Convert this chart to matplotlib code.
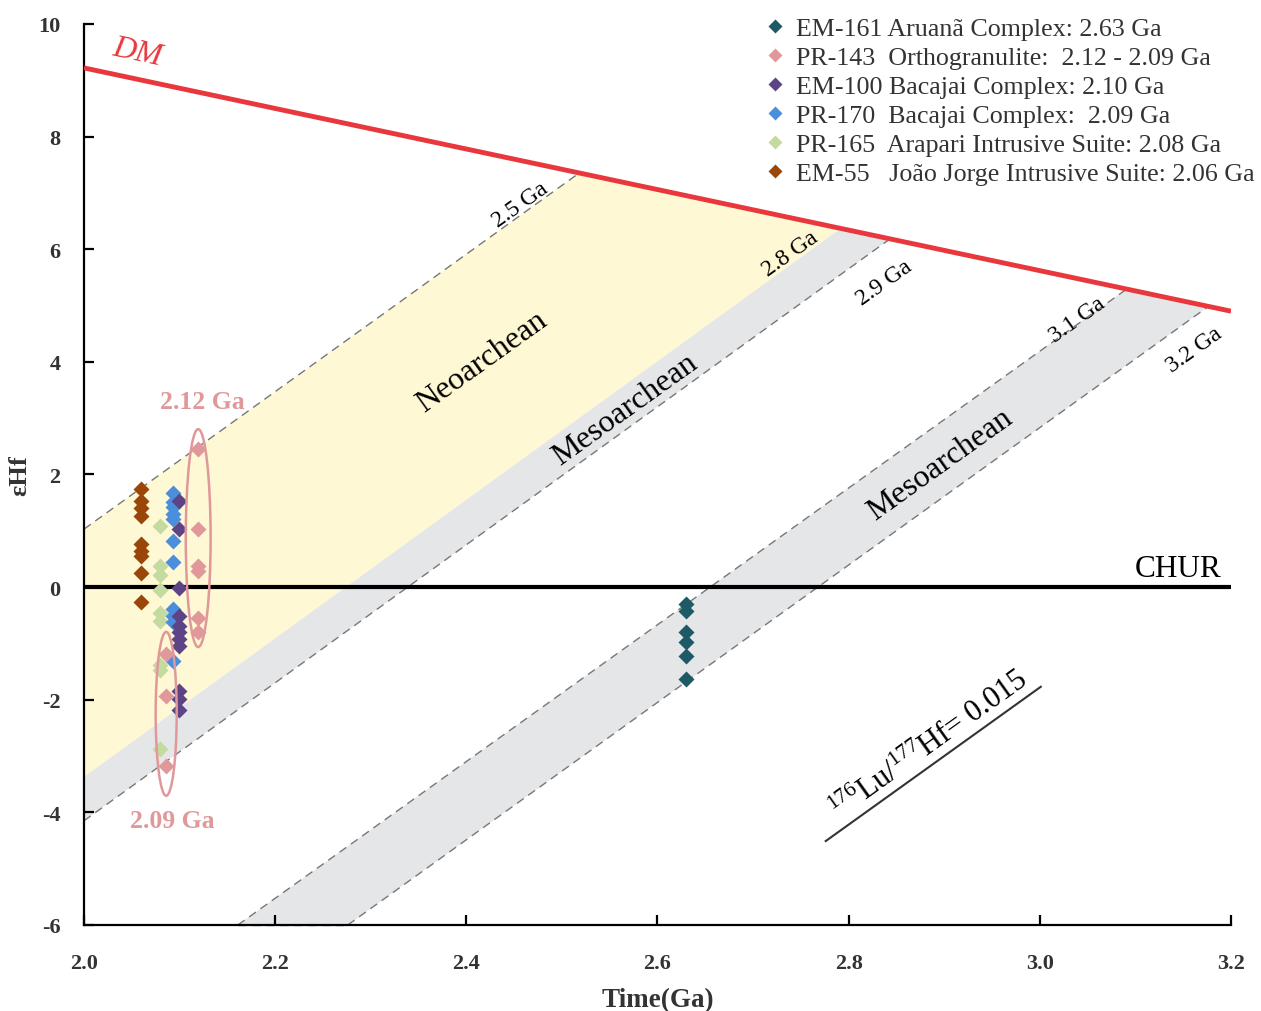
import numpy as np
import matplotlib
matplotlib.use("Agg")
import matplotlib.pyplot as plt
from matplotlib.patches import Polygon, Ellipse

plt.rcParams['font.family'] = ['Liberation Serif', 'DejaVu Serif']
plt.rcParams['mathtext.fontset'] = 'custom'
plt.rcParams['mathtext.rm'] = 'Liberation Serif'
plt.rcParams['mathtext.it'] = 'Liberation Serif:italic'
plt.rcParams['axes.unicode_minus'] = False

# --- sample data ---
em161_x = [2.63] * 6
em161_y = [-0.30, -0.42, -0.80, -0.98, -1.22, -1.63]

pr143_x = [2.119] * 6 + [2.086] * 3
pr143_y = [2.45, 1.03, 0.38, 0.29, -0.55, -0.80, -1.19, -1.93, -3.17]

em100_x = [2.0995] * 11
em100_y = [1.53, 1.03, -0.01, -0.51, -0.69, -0.80, -0.92, -1.04, -1.84, -1.99, -2.19]

pr170_x = [2.093] * 11
pr170_y = [1.68, 1.51, 1.42, 1.30, 1.21, 0.82, 0.44, -0.39, -0.52, -0.62, -1.31]

pr165_x = [2.0795] * 9
pr165_y = [1.08, 0.38, 0.21, -0.06, -0.46, -0.60, -1.38, -1.48, -2.88]

em55_x = [2.0596] * 9
em55_y = [1.75, 1.53, 1.40, 1.27, 0.77, 0.65, 0.55, 0.25, -0.27]

labels = ["EM-161 Aruanã Complex: 2.63 Ga",
          "PR-143  Orthogranulite:  2.12 - 2.09 Ga",
          "EM-100 Bacajai Complex: 2.10 Ga",
          "PR-170  Bacajai Complex:  2.09 Ga",
          "PR-165  Arapari Intrusive Suite: 2.08 Ga",
          "EM-55   João Jorge Intrusive Suite: 2.06 Ga"]
colors = ["#1d5a66", "#e0989b", "#5c4487", "#4b8fdc", "#c4da9e", "#9a4609"]

# reference lines
dm_x = [2.0, 3.2]
dm_y = [9.22, 4.90]
chur_x = [2.0, 3.2]
chur_y = [0.0, 0.0]

# model age lines (176Lu/177Hf = 0.015), start and end points
age_x0 = [2.0, 2.0, 2.161, 2.276]
age_y0 = [1.03, -4.15, -6.0, -6.0]
age_x1 = [2.517, 2.843, 3.089, 3.176]
age_y1 = [7.34, 6.18, 5.27, 4.98]

age_names = ["2.5 Ga", "2.8 Ga", "2.9 Ga", "3.1 Ga", "3.2 Ga"]
age_lab_x = [2.456, 2.739, 2.837, 3.039, 3.162]
age_lab_y = [6.80, 5.92, 5.42, 4.76, 4.23]

# shaded bands
neo_x = [2.0, 2.517, 2.791, 2.0]
neo_y = [1.03, 7.34, 6.36, -3.37]
meso1_x = [2.0, 2.791, 2.843, 2.0]
meso1_y = [-3.37, 6.36, 6.18, -4.15]
meso2_x = [2.161, 3.089, 3.176, 2.276]
meso2_y = [-6.0, 5.27, 4.98, -6.0]

luhf_x = [2.776, 3.001]
luhf_y = [-4.51, -1.77]

fig = plt.figure(figsize=(12.61, 10.12), dpi=100)
ax = fig.add_axes([0.0666, 0.085, 0.9096, 0.8903])

yellow = "#fff8d4"
grey = "#e5e6e8"
ax.add_patch(Polygon(np.column_stack([neo_x, neo_y]), closed=True, fc=yellow, ec='none', zorder=1))
ax.add_patch(Polygon(np.column_stack([meso1_x, meso1_y]), closed=True, fc=grey, ec='none', zorder=1))
ax.add_patch(Polygon(np.column_stack([meso2_x, meso2_y]), closed=True, fc=grey, ec='none', zorder=1))

for x0, y0, x1, y1 in zip(age_x0, age_y0, age_x1, age_y1):
    ax.plot([x0, x1], [y0, y1], ls=(0, (6, 4)), color='#777777', lw=1.0, zorder=2)
ax.plot([meso2_x[0], meso2_x[3]], [meso2_y[0], meso2_y[3]], ls=(0, (6, 4)), color='#777777',
        lw=1.0, zorder=2, clip_on=False)

ax.plot(dm_x, dm_y, color='#e8383d', lw=3.5, zorder=3, solid_capstyle='butt')
ax.plot(chur_x, chur_y, color='black', lw=3.0, zorder=3, solid_capstyle='butt')

# points
series = [(em55_x, em55_y, 5), (pr165_x, pr165_y, 4), (pr170_x, pr170_y, 3),
          (em100_x, em100_y, 2), (pr143_x, pr143_y, 1), (em161_x, em161_y, 0)]
handles = {}
for xs, ys, i in series:
    h, = ax.plot(xs, ys, ls='none', marker='D', ms=8.5, mfc=colors[i], mec='none', zorder=5)
    handles[i] = h

# ellipses around PR-143 groups
ax.add_patch(Ellipse((2.1195, 0.87), 0.026, 3.87, fill=False, ec='#e0989b', lw=1.8, zorder=6))
ax.add_patch(Ellipse((2.086, -2.25), 0.022, 2.91, fill=False, ec='#e0989b', lw=1.8, zorder=6))

ang = 35.6
ax.text(2.056, 9.5, "DM", color='#e8383d', fontsize=23, style='italic', rotation=-12,
        ha='center', va='center', zorder=7)
ax.text(3.19, 0.08, "CHUR", fontsize=22.5, ha='right', va='bottom', zorder=7)
ax.text(2.416, 4.01, "Neoarchean", fontsize=23, rotation=ang, rotation_mode='anchor',
        ha='center', va='center', zorder=7)
ax.text(2.566, 3.16, "Mesoarchean", fontsize=23, rotation=ang, rotation_mode='anchor',
        ha='center', va='center', zorder=7)
ax.text(2.896, 2.19, "Mesoarchean", fontsize=23, rotation=ang, rotation_mode='anchor',
        ha='center', va='center', zorder=7)
for name, tx, ty in zip(age_names, age_lab_x, age_lab_y):
    ax.text(tx, ty, name, fontsize=17, rotation=ang, rotation_mode='anchor',
            ha='center', va='center', zorder=7)
ax.text(2.124, 3.30, "2.12 Ga", color='#e0989b', fontsize=18.5, fontweight='bold',
        ha='center', va='center', zorder=7)
ax.text(2.092, -4.15, "2.09 Ga", color='#e0989b', fontsize=18.5, fontweight='bold',
        ha='center', va='center', zorder=7)

ax.plot(luhf_x, luhf_y, color='#333333', lw=1.5, zorder=4)
ax.text(2.885, -2.80, r"$^{176}$Lu/$^{177}$Hf= 0.015", fontsize=22, rotation=ang,
        rotation_mode='anchor', ha='center', va='center', zorder=7)

ax.set_xlim(2.0, 3.2)
ax.set_ylim(-6, 10)
xt = np.arange(2.0, 3.21, 0.2)
ax.set_xticks(xt)
ax.set_xticklabels([f"{v:.1f}" for v in xt])
ax.set_yticks(np.arange(-6, 11, 2))
for s in ['top', 'right']:
    ax.spines[s].set_visible(False)
for s in ['left', 'bottom']:
    ax.spines[s].set_linewidth(1.6)
ax.tick_params(direction='in', length=7, width=1.6, labelsize=16)
ax.tick_params(axis='x', pad=20)
ax.tick_params(axis='y', pad=17)
for lab in ax.get_xticklabels() + ax.get_yticklabels():
    lab.set_fontweight('bold')
    lab.set_color('#333333')
ax.set_xlabel("Time(Ga)", fontsize=19.5, fontweight='bold', color='#333333', labelpad=10)
ax.set_ylabel("εHf", fontsize=19, fontweight='bold', color='#333333', labelpad=5)

leg = fig.legend([handles[i] for i in range(6)], labels, loc='upper left',
                 bbox_to_anchor=(0.597, 0.995), frameon=False, fontsize=18.7,
                 handlelength=0.7, handletextpad=0.45, labelspacing=0.22,
                 borderpad=0, markerscale=0.8)
for t in leg.get_texts():
    t.set_color('#333333')

fig.savefig("out.png", dpi=100)
